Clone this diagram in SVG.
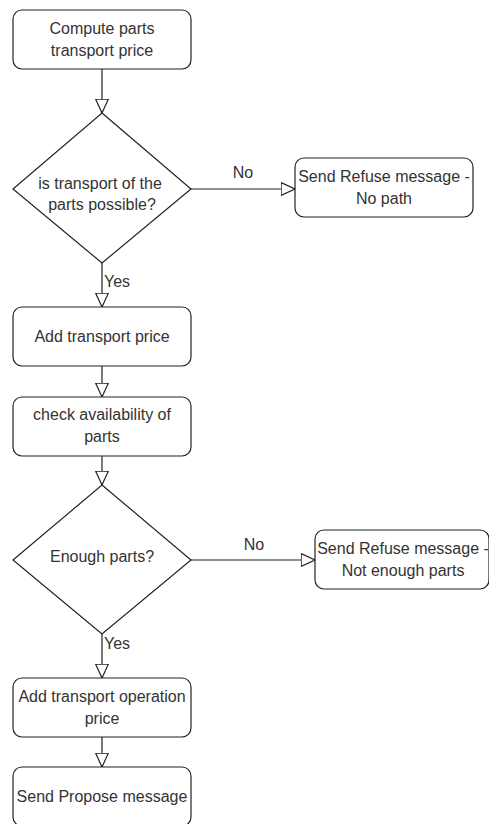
<svg xmlns="http://www.w3.org/2000/svg" width="489" height="824" viewBox="0 0 489 824">
  <defs>
    <style>
      .box { fill: #ffffff; stroke: #222222; stroke-width: 1.2; }
      .edge { fill: none; stroke: #222222; stroke-width: 1.2; }
      .lbl { font-family: "Liberation Sans", Arial, sans-serif; font-size: 16px; fill: #333333; text-anchor: middle; }
      .elbl { font-family: "Liberation Sans", Arial, sans-serif; font-size: 16px; fill: #333333; }
    </style>
    <marker id="arrow" viewBox="0 0 15 14" markerUnits="userSpaceOnUse" markerWidth="15" markerHeight="14" refX="14.5" refY="7" orient="auto">
      <path d="M0.6,0.6 L14.5,7 L0.6,13.4 Z" fill="#ffffff" stroke="#222222" stroke-width="1.2"/>
    </marker>
  </defs>
  <rect width="489" height="824" fill="#ffffff"/>

  <!-- connectors -->
  <g id="connectors">
    <path class="edge" d="M102,69 L102,113" marker-end="url(#arrow)"/>
    <path class="edge" d="M191,189 L295,189" marker-end="url(#arrow)"/>
    <text class="elbl" x="243" y="178" text-anchor="middle">No</text>
    <path class="edge" d="M102,263 L102,307" marker-end="url(#arrow)"/>
    <text class="elbl" x="104" y="287">Yes</text>
    <path class="edge" d="M102,366 L102,397" marker-end="url(#arrow)"/>
    <path class="edge" d="M102,456 L102,485" marker-end="url(#arrow)"/>
    <path class="edge" d="M191,560 L315,560" marker-end="url(#arrow)"/>
    <text class="elbl" x="254" y="550" text-anchor="middle">No</text>
    <path class="edge" d="M102,634 L102,678" marker-end="url(#arrow)"/>
    <text class="elbl" x="104" y="649">Yes</text>
    <path class="edge" d="M102,737 L102,767" marker-end="url(#arrow)"/>
  </g>

  <g id="compute-price">
    <rect class="box" x="13" y="10" width="178" height="59" rx="9"/>
    <text class="lbl" x="102" y="34">Compute parts</text>
    <text class="lbl" x="102" y="56">transport price</text>
  </g>

  <g id="transport-possible">
    <polygon class="box" points="102,113 191,189 102,263 13,189"/>
    <text class="lbl" x="100" y="189">is transport of the</text>
    <text class="lbl" x="102" y="210">parts possible?</text>
  </g>

  <g id="refuse-no-path">
    <rect class="box" x="295" y="158" width="178" height="59" rx="9"/>
    <text class="lbl" x="384" y="182">Send Refuse message -</text>
    <text class="lbl" x="384" y="204">No path</text>
  </g>

  <g id="add-transport-price">
    <rect class="box" x="13" y="307" width="178" height="59" rx="9"/>
    <text class="lbl" x="102" y="342">Add transport price</text>
  </g>

  <g id="check-availability">
    <rect class="box" x="13" y="397" width="178" height="59" rx="9"/>
    <text class="lbl" x="102" y="420">check availability of</text>
    <text class="lbl" x="102" y="442">parts</text>
  </g>

  <g id="enough-parts">
    <polygon class="box" points="102,485 191,560 102,634 13,560"/>
    <text class="lbl" x="102" y="562">Enough parts?</text>
  </g>

  <g id="refuse-not-enough">
    <rect class="box" x="315" y="530" width="174" height="59" rx="9"/>
    <text class="lbl" x="403" y="554">Send Refuse message -</text>
    <text class="lbl" x="403" y="576">Not enough parts</text>
  </g>

  <g id="add-operation-price">
    <rect class="box" x="13" y="678" width="178" height="59" rx="9"/>
    <text class="lbl" x="102" y="702">Add transport operation</text>
    <text class="lbl" x="102" y="724">price</text>
  </g>

  <g id="send-propose">
    <rect class="box" x="13" y="767" width="178" height="59" rx="9"/>
    <text class="lbl" x="102" y="802">Send Propose message</text>
  </g>
</svg>
